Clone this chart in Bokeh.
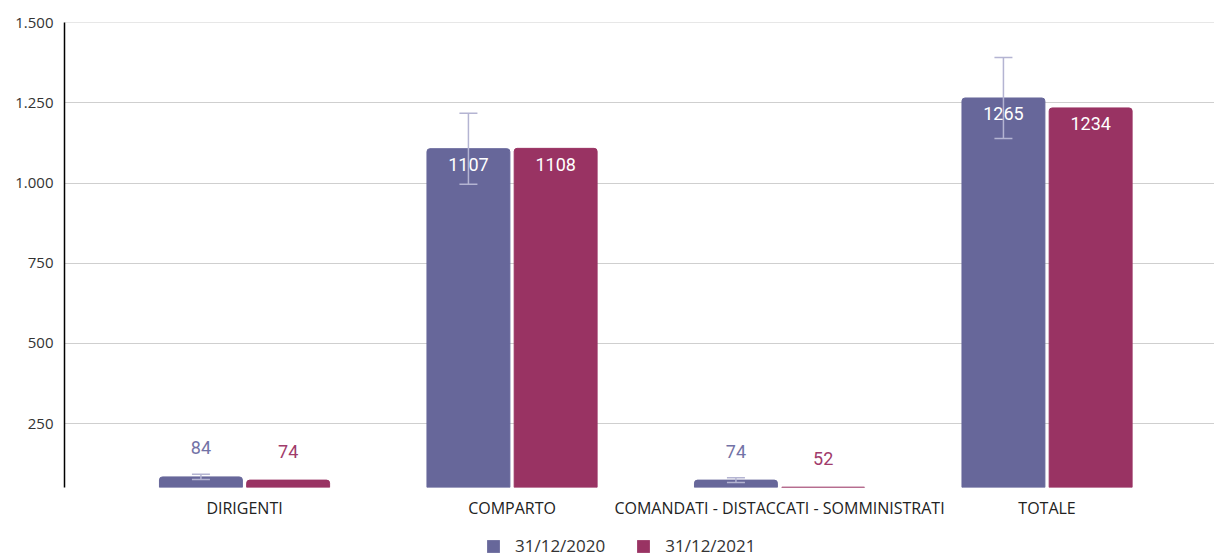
from bokeh.plotting import figure
from bokeh.layouts import column
from bokeh.models import (ColumnDataSource, FixedTicker, Range1d, Whisker, TeeHead,
                          Legend, LegendItem)
from bokeh.core.properties import value
from bokeh.embed import file_html
from bokeh.resources import INLINE

# ---- data ----
categories = ["DIRIGENTI", "COMPARTO", "COMANDATI - DISTACCATI - SOMMINISTRATI", "TOTALE"]
series_names = ["31/12/2020", "31/12/2021"]
values_2020 = [84, 1107, 74, 1265]
values_2021 = [74, 1108, 52, 1234]
err_2020 = [8.4, 110.7, 7.4, 126.5]
y_ticks = [250, 500, 750, 1000, 1250, 1500]
y_tick_labels = ["250", "500", "750", "1.000", "1.250", "1.500"]

# ---- style ----
colors = ["#67679a", "#993363"]
label_colors = ["#7272a6", "#a13b6b"]
err_color = "#b4b4d2"
offset = 0.163
bar_w = 0.31
y_min = 51
inside_threshold = 500

p = figure(frame_width=1150, frame_height=465,
           x_range=Range1d(-0.673, 3.626), y_range=Range1d(y_min, 1500.3),
           output_backend="svg", toolbar_location=None,
           min_border_left=64, min_border_right=0, min_border_top=22, min_border_bottom=0)
p.outline_line_color = None
p.background_fill_color = "white"
p.border_fill_color = "white"
p.xgrid.visible = False
p.ygrid.grid_line_color = "#cfcfcf"
p.ygrid.grid_line_width = 1

p.yaxis.ticker = FixedTicker(ticks=y_ticks)
p.yaxis.major_label_overrides = {t: l for t, l in zip(y_ticks, y_tick_labels)}
p.yaxis.axis_line_color = "black"
p.yaxis.axis_line_width = 1.5
p.yaxis.major_tick_line_color = None
p.yaxis.minor_tick_line_color = None
p.yaxis.major_tick_out = 0
p.yaxis.major_tick_in = 0
p.yaxis.major_label_standoff = 11
p.yaxis.major_label_text_font = "Open Sans"
p.yaxis.major_label_text_font_size = "15px"
p.yaxis.major_label_text_color = "#333333"

p.xaxis.ticker = FixedTicker(ticks=list(range(len(categories))))
p.xaxis.major_label_overrides = {i: c for i, c in enumerate(categories)}
p.xaxis.axis_line_color = None
p.xaxis.major_tick_line_color = None
p.xaxis.minor_tick_line_color = None
p.xaxis.major_tick_out = 0
p.xaxis.major_tick_in = 0
p.xaxis.major_label_standoff = 9
p.xaxis.major_label_text_font = "Open Sans"
p.xaxis.major_label_text_font_size = "16px"
p.xaxis.major_label_text_color = "#222222"

for k, vals in enumerate([values_2020, values_2021]):
    xs = [i + (-offset if k == 0 else offset) for i in range(len(categories))]
    src = ColumnDataSource(dict(x=xs, top=vals))
    p.vbar(x="x", top="top", bottom=y_min, width=bar_w, source=src,
           fill_color=colors[k], line_color=colors[k], line_width=1,
           border_radius=(3, 3, 0, 0))

    # labels
    inside = [v > inside_threshold for v in vals]
    lsrc = ColumnDataSource(dict(
        x=xs, y=vals, text=[str(v) for v in vals],
        yo=[16 if ins else -29 for ins in inside],
        c=["white" if ins else label_colors[k] for ins in inside]))
    p.text(x="x", y="y", text="text", y_offset="yo", text_color="c", source=lsrc,
           text_align="center", text_baseline="middle",
           text_font=value("Roboto"), text_font_size="18px")

# error bars for 2020
xs0 = [i - offset for i in range(len(categories))]
esrc = ColumnDataSource(dict(
    base=xs0,
    upper=[v + e for v, e in zip(values_2020, err_2020)],
    lower=[v - e for v, e in zip(values_2020, err_2020)]))
w = Whisker(source=esrc, base="base", upper="upper", lower="lower", dimension="height",
            line_color=err_color, line_width=1.5, level="overlay",
            upper_head=TeeHead(size=18, line_color=err_color, line_width=1.5),
            lower_head=TeeHead(size=18, line_color=err_color, line_width=1.5))
p.add_layout(w)

# ---- legend strip (frame aligned with the main plot's frame) ----
lg = figure(width=1214, height=36, x_range=Range1d(0, 1), y_range=Range1d(0, 1),
            x_axis_type=None, y_axis_type=None, output_backend="svg", toolbar_location=None,
            min_border_left=64, min_border_right=0, min_border_top=0, min_border_bottom=0)
lg.outline_line_color = None
lg.grid.visible = False
lg.border_fill_color = "white"
items = []
for k in range(2):
    # zero-size swatch renderer; only its legend glyph is visible
    r = lg.vbar(x=[0.5], top=[0], bottom=0, width=0,
                fill_color=colors[k], line_color=None)
    items.append(LegendItem(label=series_names[k], renderers=[r]))
legend = Legend(items=items, orientation="horizontal", location=(421, 0),
                glyph_width=16, glyph_height=16, label_standoff=14, spacing=30,
                border_line_color=None, background_fill_alpha=0,
                label_text_font="Open Sans", label_text_font_size="17px",
                label_text_color="#333333", margin=0, padding=0)
lg.add_layout(legend)

layout = column(p, lg, spacing=0)
open("out.html", "w").write(file_html(layout, INLINE))
